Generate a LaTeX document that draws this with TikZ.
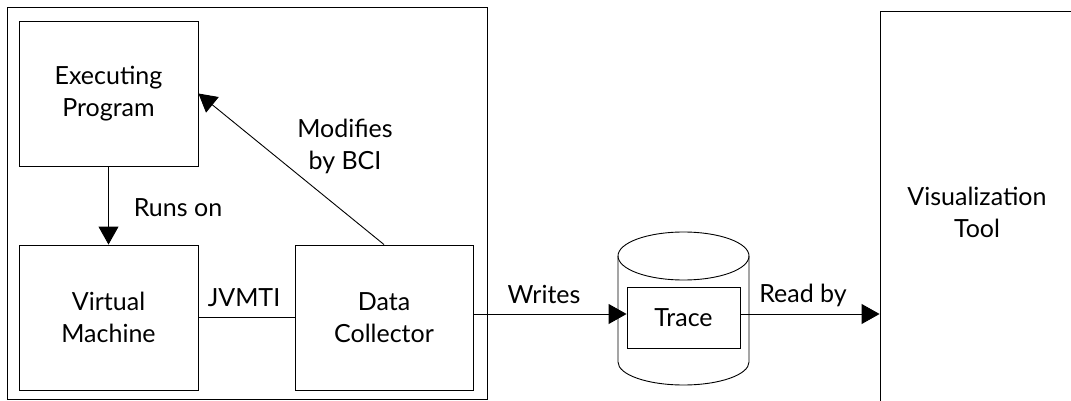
\documentclass[tikz,border=0pt]{standalone}
\usepackage{fontspec}
\setmainfont{Lato}
\usetikzlibrary{arrows.meta,calc}
\begin{document}
\begin{tikzpicture}[x=1pt,y=-1pt,
  every node/.style={font=\fontsize{25}{32}\selectfont, align=center, inner sep=0pt},
  box/.style={draw, line width=0.9pt, minimum width=179pt, minimum height=145pt},
  conn/.style={line width=0.9pt},
  arr/.style={conn, -{Triangle[length=18pt,width=20pt]}},
  lbl/.style={}]
\useasboundingbox (0,0) rectangle (1071,401);
\clip (0,0) rectangle (1071,401);
% outer frame
\draw[line width=0.9pt] (7,7) rectangle (487,399);
% boxes
\node[box] (ep) at (108.5,93.5) {Executing\\Program};
\node[box] (vm) at (108.5,317.5) {Virtual\\Machine};
\node[box, minimum width=178pt] (dc) at (384,317.5) {Data\\Collector};
\node[box, minimum width=194pt, minimum height=400pt] (viz) at (977,211) {};
\node at (977,212) {Visualization\\Tool};
% cylinder
\draw[line width=0.9pt] (683.5,256) ellipse [x radius=65.5, y radius=24];
\draw[line width=0.9pt] (618,256) -- (618,362) arc[start angle=180, end angle=0, x radius=65.5, y radius=23] -- (749,256);
\node[draw, line width=0.9pt, minimum width=113pt, minimum height=61pt] (trace) at (683.5,317.5) {Trace};
% connectors
\coordinate (wy) at (0,314);
\draw[arr] (ep.south) -- (vm.north);
\draw[arr] (dc.north) -- (ep.east);
\draw[conn] (vm.east) -- (dc.west);
\draw[arr] (dc.east |- wy) -- (trace.west |- wy);
\draw[arr] (trace.east |- wy) -- (viz.west |- wy);
% labels
\node[lbl] at (178,208) {Runs on};
\node[lbl] at (345,146) {Modifies\\by BCI};
\node[lbl] at (244,298) {JVMTI};
\node[lbl] at (544,294) {Writes};
\node[lbl] at (803,295) {Read by};
\end{tikzpicture}
\end{document}
